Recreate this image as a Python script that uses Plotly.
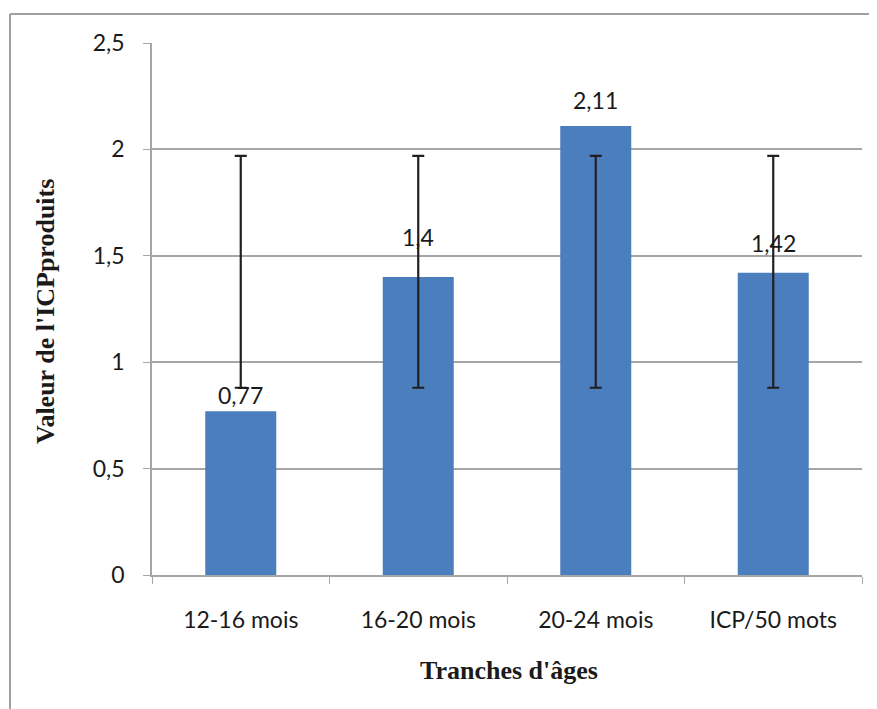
import plotly.graph_objects as go

categories = ["12-16 mois", "16-20 mois", "20-24 mois", "ICP/50 mots"]
values = [0.77, 1.4, 2.11, 1.42]
labels = ["0,77", "1,4", "2,11", "1,42"]
err_low = [0.88, 0.88, 0.88, 0.88]
err_high = [1.97, 1.97, 1.97, 1.97]
label_shift = [16, 40, 26, 30]

# the page body adds an 8px margin; the figure is sized so it fills the window
OFF = 8
W, H = 877 - OFF, 709 - OFF
ML, MR, MT, MB = 152 - OFF, 15, 43 - OFF, 134
PW, PH = W - ML - MR, H - MT - MB

def px(x):
    return (x - OFF - ML) / PW

def py(y):
    return (H - MB - (y - OFF)) / PH

mid = [(a + b) / 2 for a, b in zip(err_low, err_high)]
half = [(b - a) / 2 for a, b in zip(err_low, err_high)]

fig = go.Figure()
fig.add_trace(go.Bar(
    x=categories, y=values, width=0.4,
    marker=dict(color="#4A7EBD", line=dict(width=0)),
    showlegend=False, hoverinfo="skip",
))
fig.add_trace(go.Scatter(
    x=categories, y=mid, mode="markers",
    marker=dict(size=0.1, opacity=0),
    error_y=dict(type="data", array=half, symmetric=True,
                 color="#231F20", thickness=2.2, width=6),
    showlegend=False, hoverinfo="skip",
))

tick_font = dict(family="Lato, Carlito, sans-serif", size=23, color="#1a1a1a")

for c, v, t, s in zip(categories, values, labels, label_shift):
    fig.add_annotation(x=c, y=v, text=t, showarrow=False, yanchor="middle",
                       yshift=s, font=dict(family="Lato, sans-serif", size=23, color="#1a1a1a"))

title_font = dict(family="Liberation Serif, Times New Roman, serif", size=26, color="#1a1a1a")
fig.add_annotation(xref="paper", yref="paper", x=px(509), y=py(670),
                   xanchor="center", yanchor="middle",
                   text="<b>Tranches d'âges</b>", showarrow=False, font=title_font)
fig.add_annotation(xref="paper", yref="paper", x=px(45), y=py(312),
                   xanchor="center", yanchor="middle",
                   text="<b>Valeur de l'ICPproduits</b>", showarrow=False,
                   textangle=-90, font=title_font)

frame = dict(color="#A0A0A0", width=2)
fig.add_shape(type="line", xref="paper", yref="paper", x0=px(10), x1=px(10),
              y0=py(14), y1=py(715), line=frame)
fig.add_shape(type="line", xref="paper", yref="paper", x0=px(10), x1=px(885),
              y0=py(14), y1=py(14), line=frame)

fig.update_layout(
    width=W, height=H,
    margin=dict(l=ML, r=MR, t=MT, b=MB),
    paper_bgcolor="white", plot_bgcolor="white",
    separators=", ",
    bargap=0.6,
)
fig.update_xaxes(
    showline=True, linecolor="#A6A6A6", linewidth=1.5,
    ticks="outside", tickson="boundaries", ticklen=7, tickcolor="#A6A6A6",
    tickfont=tick_font, ticklabelstandoff=24, showgrid=False,
)
fig.update_yaxes(
    range=[0, 2.5], dtick=0.5,
    showline=True, linecolor="#A6A6A6", linewidth=1.5,
    ticks="outside", ticklen=7, tickcolor="#A6A6A6",
    showgrid=True, gridcolor="#A6A6A6", gridwidth=1.5,
    zeroline=False, tickfont=tick_font, ticklabelstandoff=14,
)

fig.write_html("out.html")
